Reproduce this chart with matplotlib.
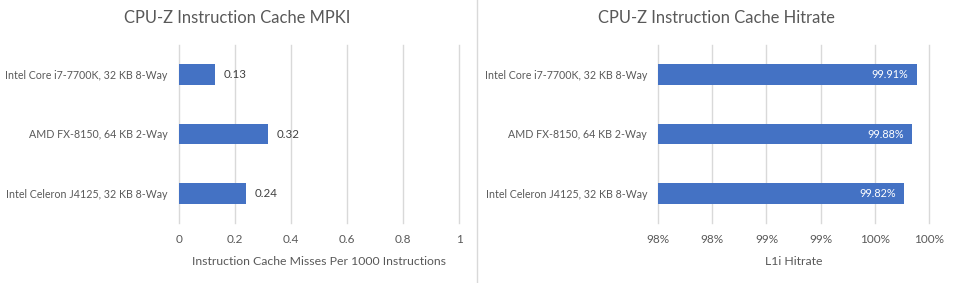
import numpy as np
import matplotlib.pyplot as plt
from matplotlib.lines import Line2D

plt.rcParams['font.family'] = ['Lato', 'DejaVu Sans']

cpus = ['Intel Core i7-7700K, 32 KB 8-Way',
        'AMD FX-8150, 64 KB 2-Way',
        'Intel Celeron J4125, 32 KB 8-Way']
mpki = [0.13, 0.32, 0.24]
hitrate = [0.9991, 0.9988, 0.9982]
mpki_ticks = [0, 0.2, 0.4, 0.6, 0.8, 1]
hit_ticks = [0.98, 0.984, 0.988, 0.992, 0.996, 1.0]

W, H = 956, 283
BLUE = '#4472C4'
GRID = '#D9D9D9'
TXT = '#595959'

fig = plt.figure(figsize=(W / 100, H / 100), dpi=100)


def px_axes(x0, x1, y0, y1):
    return fig.add_axes([x0 / W, 1 - y1 / H, (x1 - x0) / W, (y1 - y0) / H])


def style(ax, ticks):
    ax.set_ylim(2.5, -0.5)
    ax.set_xlim(ticks[0], ticks[-1])
    ax.set_xticks(ticks)
    ax.set_yticks(range(len(cpus)))
    ax.set_yticklabels(cpus)
    for s in ax.spines.values():
        s.set_visible(False)
    ax.tick_params(length=0, colors=TXT)
    ax.tick_params(axis='x', pad=8, labelsize=8.5)
    ax.tick_params(axis='y', pad=8, labelsize=7.7)
    ax.grid(axis='x', color=GRID, lw=1)
    ax.set_axisbelow(True)
    for ln in ax.get_xgridlines():
        ln.set_clip_on(False)


# left chart
ax1 = px_axes(178.7, 459.3, 45, 223)
style(ax1, mpki_ticks)
ax1.barh(range(len(cpus)), mpki, height=0.35, color=BLUE)
ax1.set_xticklabels(['0', '0.2', '0.4', '0.6', '0.8', '1'])
for i, v in enumerate(mpki):
    ax1.annotate(f'{v:.2f}', (v, i), xytext=(6, 0), textcoords='offset points',
                 va='center', ha='left', fontsize=8.3, color='#404040')
ax1.set_xlabel('Instruction Cache Misses Per 1000 Instructions', fontsize=8.8,
               color=TXT, labelpad=8)
fig.text(237 / W, 1 - 17.7 / H, 'CPU-Z Instruction Cache MPKI', ha='center',
         va='center', fontsize=11.9, color=TXT)

# right chart
ax2 = px_axes(658.3, 928.7, 45, 223)
style(ax2, hit_ticks)
ax2.barh(range(len(cpus)), hitrate, height=0.35, color=BLUE)
ax2.set_xticklabels([f'{t * 100:.0f}%' for t in [0.9775, 0.9825, 0.9875, 0.9925, 0.9975, 1.0025]])
for i, v in enumerate(hitrate):
    ax2.annotate(f'{v * 100:.2f}%', (v, i), xytext=(-6, 0), textcoords='offset points',
                 va='center', ha='right', fontsize=7.8, color='white')
ax2.set_xlabel('L1i Hitrate', fontsize=8.8, color=TXT, labelpad=8)
fig.text(716.8 / W, 1 - 17.7 / H, 'CPU-Z Instruction Cache Hitrate', ha='center',
         va='center', fontsize=11.9, color=TXT)

# separator between the two charts
fig.add_artist(Line2D([477 / W, 477 / W], [0, 1], color=GRID, lw=1))

fig.savefig('out.png', dpi=100, facecolor='white')
